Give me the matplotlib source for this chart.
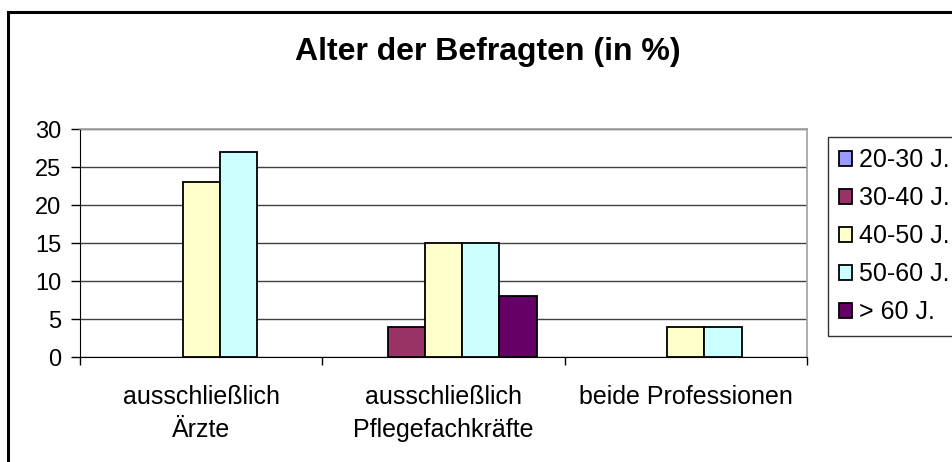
import numpy as np
import matplotlib.pyplot as plt
from matplotlib.patches import Rectangle, Patch

plt.rcParams['font.family'] = ['Liberation Sans', 'DejaVu Sans']

categories = ['ausschließlich\nÄrzte', 'ausschließlich\nPflegefachkräfte', 'beide Professionen']
age_groups = ['20-30 J.', '30-40 J.', '40-50 J.', '50-60 J.', '> 60 J.']
values = {
    '20-30 J.': [0, 0, 0],
    '30-40 J.': [0, 4, 0],
    '40-50 J.': [23, 15, 4],
    '50-60 J.': [27, 15, 4],
    '> 60 J.': [0, 8, 0],
}
colors = ['#9999ff', '#993366', '#ffffcc', '#ccffff', '#660066']

W, H = 953, 462
fig = plt.figure(figsize=(W / 100, H / 100), dpi=100)

# outer chart border (cut off on the right and bottom)
fig.patches.append(Rectangle((8 / W, -0.1), 1.2, 1 - 12 / H + 0.1,
                             transform=fig.transFigure, fill=False,
                             edgecolor='black', linewidth=2.2, zorder=0))

ax = fig.add_axes([80 / W, 1 - 357 / H, 727 / W, 228 / H])

x = np.arange(len(categories))
bw = 1 / 6.5
for i, g in enumerate(age_groups):
    pos = x + (i - 2) * bw
    vals = np.array(values[g])
    lw = [1.3 if v > 0 else 0 for v in vals]
    ax.bar(pos, vals, width=bw, color=colors[i], edgecolor='black',
           linewidth=lw, zorder=3)

ax.set_xlim(-0.5, 2.5)
ax.set_ylim(0, 30)
ax.set_yticks(range(0, 31, 5))
ax.yaxis.grid(True, color='#404040', linewidth=1.0, zorder=0)
ax.set_xticks(x)
ax.set_xticklabels(categories, fontsize=18, linespacing=1.5)
ax.set_xticks([-0.5, 0.5, 1.5, 2.5], minor=True)
ax.tick_params(axis='x', which='major', length=0, pad=20)
ax.tick_params(axis='x', which='minor', length=6, width=1, color='black')
ax.tick_params(axis='y', length=6.5, width=1, labelsize=17, pad=7)

for side in ['top', 'right']:
    ax.spines[side].set_color('#a0a0a0')
    ax.spines[side].set_linewidth(1.2)
ax.spines['left'].set_color('black')
ax.spines['bottom'].set_color('black')

fig.text(488 / W, 1 - 52 / H, 'Alter der Befragten (in %)', fontsize=23,
         fontweight='bold', ha='center', va='center')

handles = [Patch(facecolor=c, edgecolor='black', linewidth=1.3) for c in colors]
leg = fig.legend(handles, age_groups, loc='upper left',
                 bbox_to_anchor=(828 / W, 1 - 137 / H),
                 fontsize=18, frameon=True, fancybox=False, handlelength=0.5,
                 handleheight=0.5, handletextpad=0.28, labelspacing=0.56,
                 borderpad=0.45, borderaxespad=0)
leg.get_frame().set_edgecolor('black')
leg.get_frame().set_linewidth(1.0)

fig.savefig('out.png', dpi=100)
